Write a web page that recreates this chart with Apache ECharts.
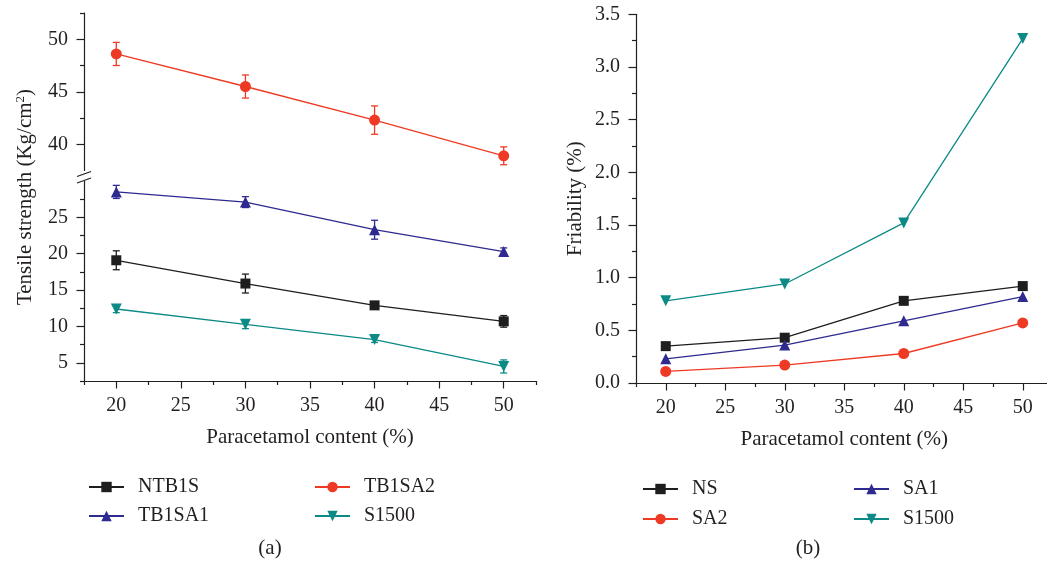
<!DOCTYPE html>
<html>
<head>
<meta charset="utf-8">
<script src="https://cdn.jsdelivr.net/npm/echarts@6/dist/echarts.min.js"></script>
<style>
html,body{margin:0;padding:0;background:#fff;}
#chart{width:1047px;height:567px;}
</style>
</head>
<body>
<div id="chart"></div>
<script>
// ---------- data ----------
const content = [20, 30, 40, 50];
const xTicks = [20, 25, 30, 35, 40, 45, 50];
const xMinorTicks = [17.5, 22.5, 27.5, 32.5, 37.5, 42.5, 47.5, 52.5];

// (a) Tensile strength (Kg/cm2)
const tsNTB1S = [19.1, 15.9, 12.9, 10.7];
const tsNTB1SErr = [1.3, 1.3, 0.4, 0.8];
const tsTB1SA2 = [48.6, 45.5, 42.3, 38.9];
const tsTB1SA2Err = [1.1, 1.1, 1.35, 0.85];
const tsTB1SA1 = [28.5, 27.1, 23.3, 20.3];
const tsTB1SA1Err = [0.9, 0.75, 1.3, 0.5];
const tsS1500 = [12.4, 10.3, 8.2, 4.5];
const tsS1500Err = [0.5, 0.6, 0.4, 0.9];

const upperTicks = [40, 45, 50];
const upperMinor = [42.5, 47.5, 52.5];
const lowerTicks = [5, 10, 15, 20, 25];
const lowerMinor = [2.5, 7.5, 12.5, 17.5, 22.5, 27.5];

// (b) Friability (%)
const frNS = [0.35, 0.43, 0.78, 0.92];
const frSA1 = [0.23, 0.36, 0.59, 0.82];
const frSA2 = [0.11, 0.17, 0.28, 0.57];
const frS1500 = [0.78, 0.94, 1.52, 3.27];

// ---------- style ----------
const FONT = 'Liberation Serif';
const TXT = '#231f20';
const C_BLACK = '#1e1e1e';
const C_RED = '#ee3a24';
const C_BLUE = '#2e2a8f';
const C_TEAL = '#0b8a86';
const LW = 1.3;

function pairs(ys) { return content.map((x, i) => [x, ys[i]]); }
function errData(ys, es) { return content.map((x, i) => [x, ys[i] - es[i], ys[i] + es[i]]); }

function errRender(params, api) {
  const x = api.value(0), lo = api.value(1), hi = api.value(2);
  const p1 = api.coord([x, lo]), p2 = api.coord([x, hi]);
  const c = api.visual('color');
  const w = 3.5;
  const st = { stroke: c, lineWidth: LW };
  return {
    type: 'group',
    children: [
      { type: 'line', shape: { x1: p1[0], y1: p1[1], x2: p2[0], y2: p2[1] }, style: st },
      { type: 'line', shape: { x1: p1[0] - w, y1: p1[1], x2: p1[0] + w, y2: p1[1] }, style: st },
      { type: 'line', shape: { x1: p2[0] - w, y1: p2[1], x2: p2[0] + w, y2: p2[1] }, style: st }
    ]
  };
}

const axisLineStyle = { lineStyle: { color: TXT, width: 1.2 } };
const tickLabel = { fontFamily: FONT, fontSize: 20, color: TXT };

function mainX(grid, show) {
  return {
    type: 'value', gridIndex: grid, min: 17.5, max: 52.5, show: show,
    position: 'bottom',
    axisLine: Object.assign({ show: true, onZero: false }, axisLineStyle),
    axisTick: { show: true, customValues: xTicks, length: 7.5, lineStyle: { color: TXT, width: 1.2 } },
    axisLabel: Object.assign({ customValues: xTicks, margin: 15 }, tickLabel),
    splitLine: { show: false },
    name: 'Paracetamol content (%)', nameLocation: 'middle', nameGap: 46,
    nameTextStyle: { fontFamily: FONT, fontSize: 21, color: TXT }
  };
}
function minorX(grid) {
  return {
    type: 'value', gridIndex: grid, min: 17.5, max: 52.5, position: 'bottom',
    axisLine: { show: false, onZero: false },
    axisTick: { show: true, customValues: xMinorTicks, length: 4, lineStyle: { color: TXT, width: 1.2 } },
    axisLabel: { show: false }, splitLine: { show: false }
  };
}
function mainY(grid, min, max, ticks) {
  return {
    type: 'value', gridIndex: grid, min: min, max: max, position: 'left',
    axisLine: Object.assign({ show: true, onZero: false }, axisLineStyle),
    axisTick: { show: true, customValues: ticks, length: 7.5, lineStyle: { color: TXT, width: 1.2 } },
    axisLabel: Object.assign({ customValues: ticks, margin: 16 }, tickLabel),
    splitLine: { show: false }
  };
}
function minorY(grid, min, max, ticks) {
  return {
    type: 'value', gridIndex: grid, min: min, max: max, position: 'left',
    axisLine: { show: false, onZero: false },
    axisTick: { show: true, customValues: ticks, length: 4, lineStyle: { color: TXT, width: 1.2 } },
    axisLabel: { show: false }, splitLine: { show: false }
  };
}

function lineSeries(name, data, color, symbol, size, xi, yi, rotate) {
  return {
    type: 'line', name: name, data: pairs(data), xAxisIndex: xi, yAxisIndex: yi,
    symbol: symbol, symbolSize: size, symbolRotate: rotate || 0,
    lineStyle: { color: color, width: LW }, itemStyle: { color: color },
    showSymbol: true, animation: false, z: 3
  };
}
function errSeries(data, err, color, xi, yi) {
  return {
    type: 'custom', data: errData(data, err), xAxisIndex: xi, yAxisIndex: yi,
    renderItem: errRender, itemStyle: { color: color }, animation: false, z: 2,
    encode: { x: 0, y: [1, 2] }
  };
}

const legendBase = {
  orient: 'vertical', itemWidth: 35, itemHeight: 13,
  textStyle: { fontFamily: FONT, fontSize: 20, color: TXT, padding: [0, 0, 0, 9] },
  selectedMode: false
};

const chart = echarts.init(document.getElementById('chart'), null, { renderer: 'canvas' });
chart.setOption({
  backgroundColor: '#fff',
  animation: false,
  grid: [
    { left: 84, top: 13, width: 452, height: 157.5, outerBoundsMode: 'none' },
    { left: 84, top: 181, width: 452, height: 200, outerBoundsMode: 'none' },
    { left: 636, top: 14.3, width: 416.5, height: 368.7, outerBoundsMode: 'none' }
  ],
  xAxis: [
    mainX(0, false),
    mainX(1, true),
    minorX(1),
    mainX(2, true),
    minorX(2)
  ],
  yAxis: [
    mainY(0, 37.5, 52.5, upperTicks),
    minorY(0, 37.5, 52.5, upperMinor),
    mainY(1, 2.5, 30, lowerTicks),
    minorY(1, 2.5, 30, lowerMinor),
    {
      type: 'value', gridIndex: 2, min: 0, max: 3.5, interval: 0.5, position: 'left',
      axisLine: Object.assign({ show: true, onZero: false }, axisLineStyle),
      axisTick: { show: true, length: 7.5, lineStyle: { color: TXT, width: 1.2 } },
      minorTick: { show: true, splitNumber: 2, length: 4, lineStyle: { color: TXT, width: 1.2 } },
      axisLabel: Object.assign({ margin: 16, formatter: v => v.toFixed(1) }, tickLabel),
      splitLine: { show: false },
      name: 'Friability (%)', nameLocation: 'middle', nameGap: 50,
      nameTextStyle: { fontFamily: FONT, fontSize: 21, color: TXT }
    }
  ],
  legend: [
    Object.assign({ data: ['NTB1S', 'TB1SA1'], left: 83, top: 472, itemGap: 9 }, legendBase),
    Object.assign({ data: ['TB1SA2', 'S1500'], left: 309, top: 472, itemGap: 9 }, legendBase),
    Object.assign({ data: ['NS', 'SA2'], left: 637, top: 474, itemGap: 10 }, legendBase),
    Object.assign({ data: ['SA1', 'S1500'], left: 848, top: 474, itemGap: 10 }, legendBase)
  ],
  series: [
    errSeries(tsTB1SA2, tsTB1SA2Err, C_RED, 0, 0),
    lineSeries('TB1SA2', tsTB1SA2, C_RED, 'circle', 11, 0, 0),
    errSeries(tsTB1SA1, tsTB1SA1Err, C_BLUE, 1, 2),
    lineSeries('TB1SA1', tsTB1SA1, C_BLUE, 'triangle', 11, 1, 2),
    errSeries(tsNTB1S, tsNTB1SErr, C_BLACK, 1, 2),
    lineSeries('NTB1S', tsNTB1S, C_BLACK, 'rect', 10, 1, 2),
    errSeries(tsS1500, tsS1500Err, C_TEAL, 1, 2),
    lineSeries('S1500', tsS1500, C_TEAL, 'triangle', 11, 1, 2, 180),

    lineSeries('NS', frNS, C_BLACK, 'rect', 10, 3, 4),
    lineSeries('SA2', frSA2, C_RED, 'circle', 11, 3, 4),
    lineSeries('SA1', frSA1, C_BLUE, 'triangle', 11, 3, 4),
    lineSeries('S1500', frS1500, C_TEAL, 'triangle', 11, 3, 4, 180)
  ],
  graphic: [
    {
      type: 'text', x: 25, y: 197, rotation: Math.PI / 2,
      style: {
        text: 'Tensile strength (Kg/cm{sup|2})',
        fontFamily: FONT, fontSize: 21, fill: TXT,
        align: 'center', verticalAlign: 'middle',
        rich: { sup: { fontFamily: FONT, fontSize: 13, fill: TXT, verticalAlign: 'top', padding: [0, 0, 8, 0] } }
      }
    },
    { type: 'rect', shape: { x: 80, y: 171, width: 8, height: 10 }, style: { fill: '#fff' }, z: 10 },
    { type: 'line', shape: { x1: 77, y1: 176.5, x2: 91, y2: 171.5 }, style: { stroke: TXT, lineWidth: 1.2 }, z: 11 },
    { type: 'line', shape: { x1: 77, y1: 183, x2: 91, y2: 178 }, style: { stroke: TXT, lineWidth: 1.2 }, z: 11 },
    {
      type: 'text', x: 270, y: 548,
      style: { text: '(a)', fontFamily: FONT, fontSize: 21, fill: TXT, align: 'center', verticalAlign: 'middle' }
    },
    {
      type: 'text', x: 808, y: 548,
      style: { text: '(b)', fontFamily: FONT, fontSize: 21, fill: TXT, align: 'center', verticalAlign: 'middle' }
    }
  ]
});
</script>
</body>
</html>
